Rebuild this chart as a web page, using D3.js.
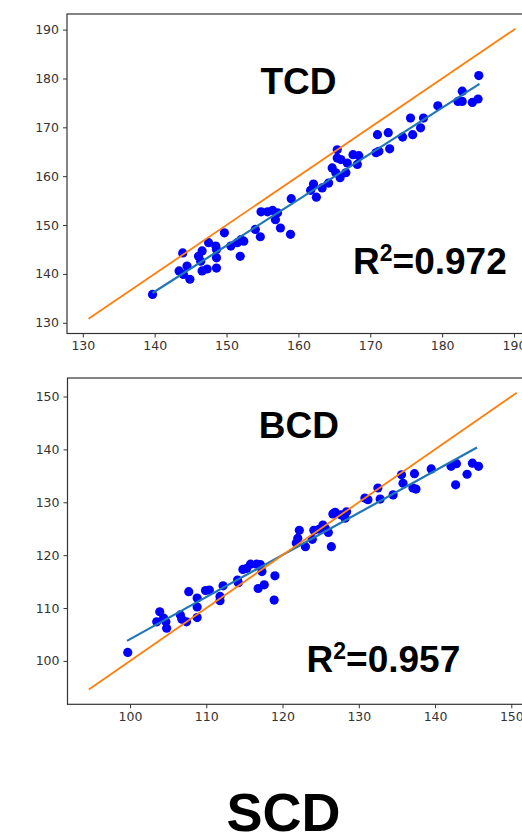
<!DOCTYPE html>
<html>
<head>
<meta charset="utf-8">
<script src="https://cdn.jsdelivr.net/npm/d3@7"></script>
<style>
  html, body { margin: 0; padding: 0; background: #fff; }
  svg { display: block; }
</style>
</head>
<body>
<svg id="chart" width="522" height="836"></svg>
<script>
// TCD: measured vs. reference diameter (mm)
const tcdX = [139.7, 143.9, 143.4, 144.5, 144.0, 144.9, 146.6, 146.4, 146.6, 147.3, 147.5, 148.5, 148.6, 148.6, 149.7, 150.6, 151.5, 152.0, 152.4, 151.9, 154.0, 154.7, 154.8, 155.7, 156.4, 157.1, 156.8, 157.5, 158.9, 159.0, 162.1, 161.7, 162.5, 163.3, 164.2, 165.4, 164.7, 165.2, 165.9, 165.8, 166.6, 166.8, 167.6, 168.4, 168.2, 171.0, 170.8, 171.2, 172.5, 172.7, 174.5, 175.6, 175.9, 177.0, 177.4, 179.4, 182.2, 182.8, 182.8, 184.2, 185.0, 185.1, 165.4, 148.6, 146.1];
const tcdY = [135.8, 144.3, 140.6, 141.6, 139.9, 138.9, 144.7, 142.6, 140.6, 141.0, 146.4, 145.7, 143.3, 141.2, 148.4, 145.7, 146.4, 147.0, 146.7, 143.6, 149.1, 147.6, 152.7, 152.7, 153.0, 152.5, 151.1, 149.4, 148.1, 155.4, 158.4, 157.1, 155.7, 157.6, 158.6, 165.4, 161.7, 160.7, 163.4, 159.7, 160.7, 162.7, 164.4, 164.2, 162.4, 168.5, 164.8, 165.1, 168.9, 165.6, 168.0, 171.9, 168.5, 169.9, 171.9, 174.4, 175.3, 177.4, 175.3, 175.1, 175.8, 180.6, 163.7, 145.0, 143.6];
const tcdFit = [[139.7, 136.1], [185.2, 178.9]];
const tcdIdentity = [130.8, 190.2];
const tcdDomain = [127.8, 193.2];
const tcdTicks = [130, 140, 150, 160, 170, 180, 190];
const tcdR2 = "0.972";

// BCD: measured vs. reference diameter (mm)
const bcdX = [99.7, 103.5, 103.9, 104.4, 104.8, 106.6, 106.8, 107.4, 107.7, 108.8, 108.8, 108.8, 109.9, 110.4, 111.8, 111.8, 112.2, 114.1, 114.2, 114.8, 115.3, 115.8, 116.6, 117.1, 117.3, 116.8, 117.6, 119.0, 118.9, 121.8, 122.2, 122.0, 123.0, 123.9, 124.1, 124.8, 125.3, 126.0, 125.6, 126.4, 126.6, 126.9, 127.7, 128.4, 128.2, 130.8, 131.2, 132.5, 132.8, 134.5, 135.6, 135.8, 137.1, 137.5, 137.3, 139.5, 142.1, 142.8, 142.7, 144.2, 144.9, 145.7, 104.7];
const bcdY = [101.6, 107.4, 109.3, 108.1, 106.2, 108.7, 107.9, 107.4, 113.1, 111.9, 110.2, 108.2, 113.3, 113.4, 112.2, 111.4, 114.2, 115.3, 114.8, 117.3, 117.5, 118.3, 118.3, 118.2, 116.9, 113.7, 114.4, 116.1, 111.5, 122.3, 124.7, 123.2, 121.6, 123.0, 124.7, 124.9, 125.7, 124.3, 125.1, 121.6, 127.8, 128.1, 127.6, 128.2, 127.0, 130.8, 130.5, 132.7, 130.6, 131.4, 135.2, 133.6, 132.7, 132.5, 135.4, 136.3, 136.8, 137.3, 133.3, 135.3, 137.4, 136.8, 107.4];
const bcdFit = [[99.6, 103.8], [145.5, 140.35]];
const bcdIdentity = [94.6, 150.7];
const bcdDomain = [91.8, 153.5];
const bcdTicks = [100, 110, 120, 130, 140, 150];
const bcdR2 = "0.957";

const svg = d3.select("#chart");
svg.append("rect").attr("width", 522).attr("height", 836).attr("fill", "#fff");

const panels = [
  { name: "TCD", xs: tcdX, ys: tcdY, fit: tcdFit, ident: tcdIdentity, domain: tcdDomain, ticks: tcdTicks, r2: tcdR2,
    box: { left: 67, right: 537, top: 14, bottom: 333.5 }, titleY: 94, titleX: 298.5, r2X: 353, r2Y: 274 },
  { name: "BCD", xs: bcdX, ys: bcdY, fit: bcdFit, ident: bcdIdentity, domain: bcdDomain, ticks: bcdTicks, r2: bcdR2,
    box: { left: 67.5, right: 538, top: 378, bottom: 704.3 }, titleY: 437.5, titleX: 298.8, r2X: 306.5, r2Y: 672 }
];

panels.forEach((p, i) => {
  const b = p.box;
  const x = d3.scaleLinear().domain(p.domain).range([b.left, b.right]);
  const y = d3.scaleLinear().domain(p.domain).range([b.bottom, b.top]);
  const g = svg.append("g");

  const clipId = "clip" + i;
  g.append("clipPath").attr("id", clipId)
    .append("rect").attr("x", b.left).attr("y", b.top)
    .attr("width", b.right - b.left).attr("height", b.bottom - b.top);

  const plot = g.append("g").attr("clip-path", `url(#${clipId})`);

  // scatter points
  plot.selectAll("circle").data(p.xs.map((v, k) => [v, p.ys[k]]))
    .join("circle")
    .attr("cx", d => x(d[0])).attr("cy", d => y(d[1]))
    .attr("r", 4.6).attr("fill", "#0000ff");

  const line = d3.line().x(d => x(d[0])).y(d => y(d[1]));

  // least-squares fit
  plot.append("path").datum(p.fit).attr("d", line)
    .attr("fill", "none").attr("stroke", "#1f77b4").attr("stroke-width", 2.2);

  // identity line y = x
  plot.append("path").datum(p.ident.map(v => [v, v])).attr("d", line)
    .attr("fill", "none").attr("stroke", "#ff7f0e").attr("stroke-width", 1.8);

  // axes
  const xAxis = d3.axisBottom(x).tickValues(p.ticks).tickSize(4).tickPadding(4);
  const yAxis = d3.axisLeft(y).tickValues(p.ticks).tickSize(4).tickPadding(4);

  const gx = g.append("g").attr("transform", `translate(0,${b.bottom})`).call(xAxis);
  const gy = g.append("g").attr("transform", `translate(${b.left},0)`).call(yAxis);
  [gx, gy].forEach(ax => {
    ax.select(".domain").remove();
    ax.selectAll(".tick line").attr("stroke", "#333").attr("stroke-width", 1);
    ax.selectAll(".tick text").attr("fill", "#333")
      .attr("font-family", "DejaVu Sans").attr("font-size", 12.5);
  });

  // frame
  g.append("rect").attr("x", b.left).attr("y", b.top)
    .attr("width", b.right - b.left).attr("height", b.bottom - b.top)
    .attr("fill", "none").attr("stroke", "#333").attr("stroke-width", 1.2);

  // panel title
  g.append("text").attr("x", p.titleX).attr("y", p.titleY)
    .attr("text-anchor", "middle").attr("font-family", "Liberation Sans, Arial, sans-serif")
    .attr("font-weight", "bold").attr("font-size", 37).attr("fill", "#000")
    .text(p.name);

  // coefficient of determination
  const t = g.append("text").attr("x", p.r2X).attr("y", p.r2Y)
    .attr("font-family", "Liberation Sans, Arial, sans-serif")
    .attr("font-weight", "bold").attr("font-size", 37).attr("fill", "#000");
  t.append("tspan").text("R");
  t.append("tspan").attr("font-size", 23).attr("dy", -13).text("2");
  t.append("tspan").attr("dy", 13).text("=" + p.r2);
});

// overall label
svg.append("text").attr("x", 283.5).attr("y", 831)
  .attr("text-anchor", "middle").attr("font-family", "Liberation Sans, Arial, sans-serif")
  .attr("font-weight", "bold").attr("font-size", 54).attr("fill", "#000")
  .text("SCD");
</script>
</body>
</html>
